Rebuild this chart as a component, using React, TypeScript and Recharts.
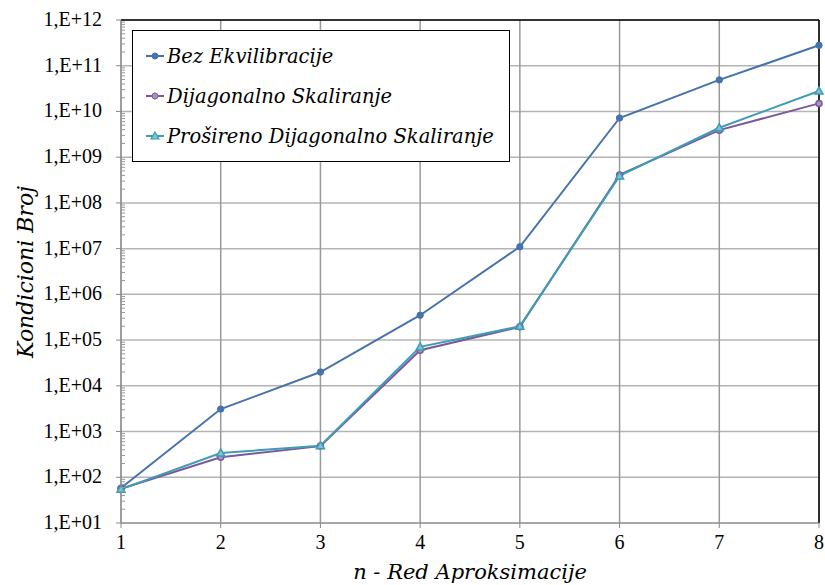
import { LineChart, Line, XAxis, YAxis, CartesianGrid, ReferenceLine } from 'recharts'

const nOrder = [1, 2, 3, 4, 5, 6, 7, 8]
const bezEkvilibracije = [58, 3100, 2.0e4, 3.5e5, 1.1e7, 7.2e9, 4.9e10, 2.8e11]
const dijagonalno = [56, 275, 480, 6.0e4, 1.95e5, 4.1e8, 3.9e9, 1.5e10]
const prosireno = [55, 340, 490, 7.1e4, 2.0e5, 3.9e8, 4.4e9, 2.8e10]

const decades = [1e1, 1e2, 1e3, 1e4, 1e5, 1e6, 1e7, 1e8, 1e9, 1e10, 1e11, 1e12]
const minorTicks = decades.slice(0, -1).flatMap((d) => [2, 3, 4, 5, 6, 7, 8, 9].map((m) => d * m))
const yTicks = [...decades, ...minorTicks]

const series = [
  { key: 'bez', name: 'Bez Ekvilibracije', color: '#4673ad', shape: 'dot' },
  { key: 'dij', name: 'Dijagonalno Skaliranje', color: '#7a5a9c', shape: 'ring' },
  { key: 'pro', name: 'Prošireno Dijagonalno Skaliranje', color: '#3f9cb5', shape: 'tri' },
]

const data = nOrder.map((n, i) => ({
  n,
  bez: bezEkvilibracije[i],
  dij: dijagonalno[i],
  pro: prosireno[i],
}))

const FONT = '"Liberation Serif", serif'
const ITALIC = '"DejaVu Serif", serif'

const isMajor = (v: number) => Math.abs(Math.log10(v) - Math.round(Math.log10(v))) < 1e-6

function fmt(v: number) {
  const e = Math.round(Math.log10(v))
  return '1,E+' + String(e).padStart(2, '0')
}

function YTick(props: any) {
  const { x, y, payload } = props
  const v = payload.value
  if (isMajor(v)) {
    return (
      <g>
        <line x1={x - 5} x2={x} y1={y} y2={y} stroke="#888" />
        <text x={x - 19} y={y} dy={6} textAnchor="end" fontSize={20} fontFamily={FONT} fill="#000">
          {fmt(v)}
        </text>
      </g>
    )
  }
  return <line x1={x} x2={x + 4} y1={y} y2={y} stroke="#999" />
}

function Marker(shape: string, color: string) {
  return (p: any) => {
    const { cx, cy } = p
    if (cx == null || cy == null) return <g />
    if (shape === 'tri') {
      return (
        <path
          d={`M${cx},${cy - 4} L${cx + 4},${cy + 3} L${cx - 4},${cy + 3} Z`}
          fill="#7fc3d4"
          stroke={color}
          strokeWidth={1.5}
        />
      )
    }
    if (shape === 'ring') {
      return <circle cx={cx} cy={cy} r={3} fill="#a892c0" stroke={color} strokeWidth={1.5} />
    }
    return <circle cx={cx} cy={cy} r={3.2} fill={color} stroke={color} />
  }
}

function LegendBox() {
  return (
    <div
      style={{
        position: 'absolute',
        left: 132,
        top: 30,
        border: '1px solid #000',
        background: '#fff',
        width: 378,
        height: 132,
        boxSizing: 'border-box',
        padding: '0 0 0 12px',
        fontFamily: ITALIC,
        fontStyle: 'italic',
        fontSize: 19.5,
        display: 'flex',
        flexDirection: 'column',
        justifyContent: 'space-evenly',
      }}
    >
      {series.map((s) => (
        <div key={s.key} style={{ display: 'flex', alignItems: 'center', height: 30 }}>
          <svg width={20} height={12} style={{ marginRight: 2 }}>
            <line x1={1} x2={19} y1={6} y2={6} stroke={s.color} strokeWidth={2} />
            {s.shape === 'tri' ? (
              <path d="M10,2 L14,9 L6,9 Z" fill="#7fc3d4" stroke={s.color} strokeWidth={1.2} />
            ) : (
              <circle cx={10} cy={6} r={3} fill={s.shape === 'ring' ? '#a892c0' : s.color} stroke={s.color} />
            )}
          </svg>
          <span>{s.name}</span>
        </div>
      ))}
    </div>
  )
}

export default function App() {
  return (
    <div style={{ position: 'absolute', left: 0, top: 0, width: 825, height: 585, background: '#fff' }}>
      <LineChart width={825} height={585} data={data} margin={{ top: 20, right: 6, bottom: 0, left: 0 }}>
        <CartesianGrid vertical={false} stroke="#b4b4b4" strokeWidth={1.5} horizontalValues={decades} />
        <CartesianGrid horizontal={false} stroke="#999" strokeWidth={1.5} />
        <XAxis
          dataKey="n"
          type="number"
          domain={[1, 8]}
          ticks={nOrder}
          height={62}
          stroke="#888"
          tickSize={5}
          tickMargin={7}
          tick={{ fontSize: 20, fontFamily: FONT, fill: '#000' }}
          label={{
            value: 'n - Red Aproksimacije',
            position: 'insideBottom',
            offset: 6,
            style: { fontSize: 21, fontFamily: ITALIC, fontStyle: 'italic', fill: '#000' },
          }}
        />
        <YAxis
          scale="log"
          domain={[10, 1e12]}
          ticks={yTicks}
          interval={0}
          allowDataOverflow
          width={121}
          stroke="#888"
          tickLine={false}
          tickSize={0}
          tickMargin={0}
          tick={<YTick />}
          label={{
            content: () => (
              <text
                x={25}
                y={272}
                transform="rotate(-90 25 272)"
                textAnchor="middle"
                dominantBaseline="central"
                fontSize={22}
                fontFamily={ITALIC}
                fontStyle="italic"
                fill="#000"
              >
                Kondicioni Broj
              </text>
            ),
          }}
        />
        <ReferenceLine y={1e12} stroke="#000" strokeWidth={1.5} />
        <ReferenceLine x={8} stroke="#000" strokeWidth={1.5} />
        {series.map((s) => (
          <Line
            key={s.key}
            dataKey={s.key}
            name={s.name}
            stroke={s.color}
            strokeWidth={2}
            dot={Marker(s.shape, s.color)}
            activeDot={false}
            isAnimationActive={false}
          />
        ))}
      </LineChart>
      <LegendBox />
    </div>
  )
}
